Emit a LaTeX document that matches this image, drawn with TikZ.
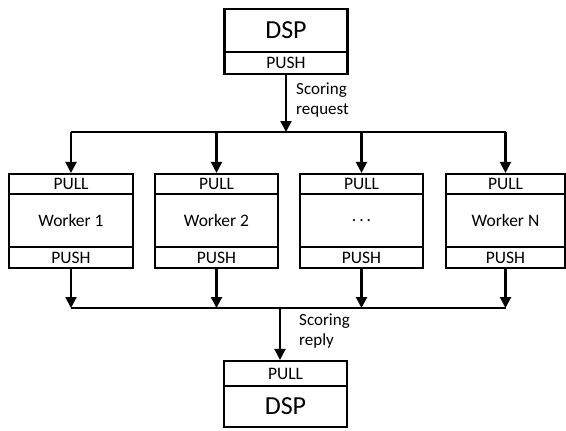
\documentclass[tikz,border=0pt]{standalone}
\usepackage{fontspec}
\setmainfont{Carlito}
\usetikzlibrary{arrows.meta}
\begin{document}
\begin{tikzpicture}[x=1pt,y=-1pt,
  part/.style={draw,line width=2.2pt,inner sep=0pt,minimum width=123pt,font=\fontsize{17.5}{19}\selectfont},
  big/.style={part,font=\fontsize{26}{28}\selectfont},
  conn/.style={line width=2.2pt},
  arr/.style={conn,-{Triangle[length=11pt,width=11pt]}},
  lbl/.style={align=left,inner sep=0pt,anchor=north west,font=\fontsize{17}{19.5}\selectfont}]
\useasboundingbox (0,0) rectangle (566,431);
% top DSP
\node[big,minimum height=43pt] (dspa) at (286,30.5) {DSP};
\node[part,minimum height=22pt] (dspapush) at (286,63) {PUSH};
% workers
\foreach \i/\x/\w/\t in {1/71/124/Worker 1,2/216.5/123/Worker 2,3/361.5/123/{.\,.\,.},4/505.5/119/Worker N}{
  \node[part,minimum width=\w pt,minimum height=20pt] (pull\i) at (\x,184) {PULL};
  \node[part,minimum width=\w pt,minimum height=53pt] (work\i) at (\x,220.5) {\t};
  \node[part,minimum width=\w pt,minimum height=21pt] (push\i) at (\x,257.5) {PUSH};
  \coordinate (tb\i) at (\x,132);
  \coordinate (bb\i) at (\x,308);
}
% bottom DSP
\node[part,minimum height=25pt] (dspbpull) at (285.5,373.5) {PULL};
\node[big,minimum height=41pt] (dspb) at (285.5,406.5) {DSP};
% connectors
\coordinate (tin) at (286,132);
\coordinate (bout) at (280,308);
\draw[arr] (dspapush.south) -- (tin);
\draw[conn] (tb1) -- (tb4);
\draw[conn] (bb1) -- (bb4);
\foreach \i in {1,2,3,4}{
  \draw[arr] (tb\i) -- (pull\i.north);
  \draw[arr] (push\i.south) -- (bb\i);
}
\draw[arr] (bout) -- (bout |- dspbpull.north);
\node[lbl] (req) at (296,83) {Scoring\\request};
\node[lbl] (rep) at (299,314) {Scoring\\reply};
\end{tikzpicture}
\end{document}
